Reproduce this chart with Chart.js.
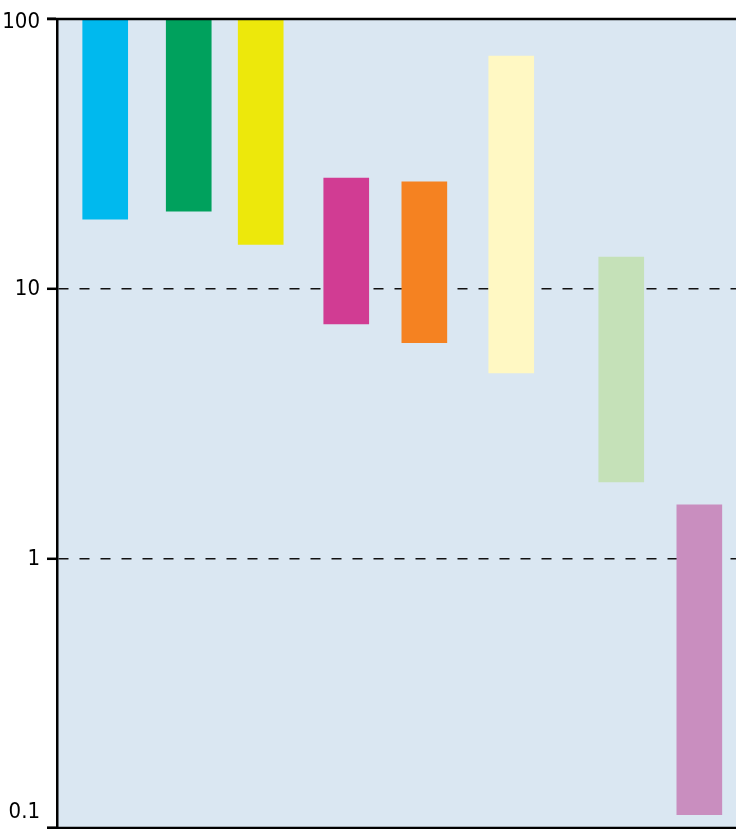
<!DOCTYPE html>
<html>
<head>
<meta charset="utf-8">
<script src="https://cdn.jsdelivr.net/npm/chart.js@4"></script>
<style>
  html, body { margin: 0; padding: 0; background: #ffffff; }
  #wrap { width: 736px; height: 829px; }
</style>
</head>
<body>
<div id="wrap"><canvas id="range"></canvas></div>
<script>
// position of each bar along the axis (0-100) and its low/high value
let xPos = [7.1, 19.4, 30.0, 42.6, 54.1, 66.9, 83.1, 94.6];
let low = [18.1, 19.4, 14.6, 7.4, 6.3, 4.87, 1.92, 0.112];
let high = [100, 100, 100, 25.7, 24.9, 72.9, 13.1, 1.58];
let colors = [
  "#00b9ee",
  "#00a15d",
  "#ede80b",
  "#d13c93",
  "#f58221",
  "#fff8c3",
  "#c5e1b8",
  "#c98ebf",
];
let yTicks = [0.1, 1, 10, 100];
let yLabels = ["0.1", "1", "10", "100"];

let tickFont = '22px "Liberation Sans Narrow", "DejaVu Sans Condensed", sans-serif';

let rows = xPos.map((x, i) => ({ x: x, y: [low[i], high[i]] }));

// light blue plot background + solid top/bottom frame lines
let frame = {
  id: "frame",
  beforeDraw(chart) {
    let { ctx, chartArea: a } = chart;
    ctx.save();
    ctx.fillStyle = "#dae7f2";
    ctx.fillRect(a.left, a.top, a.right - a.left, a.bottom - a.top);
    ctx.restore();
  },
  afterDraw(chart) {
    let { ctx, chartArea: a } = chart;
    let y = chart.scales.y;
    ctx.save();
    ctx.strokeStyle = "#000000";
    ctx.lineWidth = 2.5;
    ctx.beginPath();
    ctx.moveTo(a.left - 10, y.getPixelForValue(100));
    ctx.lineTo(a.right, y.getPixelForValue(100));
    ctx.moveTo(a.left - 10, y.getPixelForValue(0.1));
    ctx.lineTo(a.right, y.getPixelForValue(0.1));
    ctx.stroke();
    // tick labels
    ctx.fillStyle = "#000000";
    ctx.font = tickFont;
    ctx.textAlign = "right";
    ctx.textBaseline = "middle";
    yTicks.forEach((v, i) => {
      let py = y.getPixelForValue(v);
      if (v === 0.1) py -= 17;
      if (v === 100) py += 2;
      ctx.fillText(yLabels[i], a.left - 17, py + 1);
    });
    ctx.restore();
  },
};

let ctx = document.getElementById("range").getContext("2d");
let range = new Chart(ctx, {
  type: "bar",
  data: {
    datasets: [
      {
        data: rows,
        backgroundColor: colors,
        borderWidth: 0,
        barThickness: 45,
      },
    ],
  },
  plugins: [frame],
  options: {
    responsive: true,
    maintainAspectRatio: false,
    animation: false,
    layout: { padding: { top: 19, bottom: 1, left: 0, right: 0 } },
    plugins: {
      legend: { display: false },
      tooltip: { enabled: false },
    },
    scales: {
      x: {
        type: "linear",
        min: 0,
        max: 100,
        offset: false,
        display: false,
      },
      y: {
        type: "logarithmic",
        min: 0.1,
        max: 100,
        afterBuildTicks: (s) => {
          s.ticks = yTicks.map((v) => ({ value: v }));
        },
        afterFit: (s) => {
          s.width = 57;
          s.paddingTop = 0;
          s.paddingBottom = 0;
        },
        ticks: { display: false },
        border: { display: true, color: "#000000", width: 2.5, dash: [10, 11] },
        grid: {
          color: (c) =>
            c.tick && (c.tick.value === 1 || c.tick.value === 10)
              ? "#111111"
              : "rgba(0,0,0,0)",
          lineWidth: 1.6,
          tickLength: 10,
          tickColor: "#000000",
          tickWidth: 2.5,
          tickBorderDash: [],
        },
      },
    },
  },
});
</script>
</body>
</html>
